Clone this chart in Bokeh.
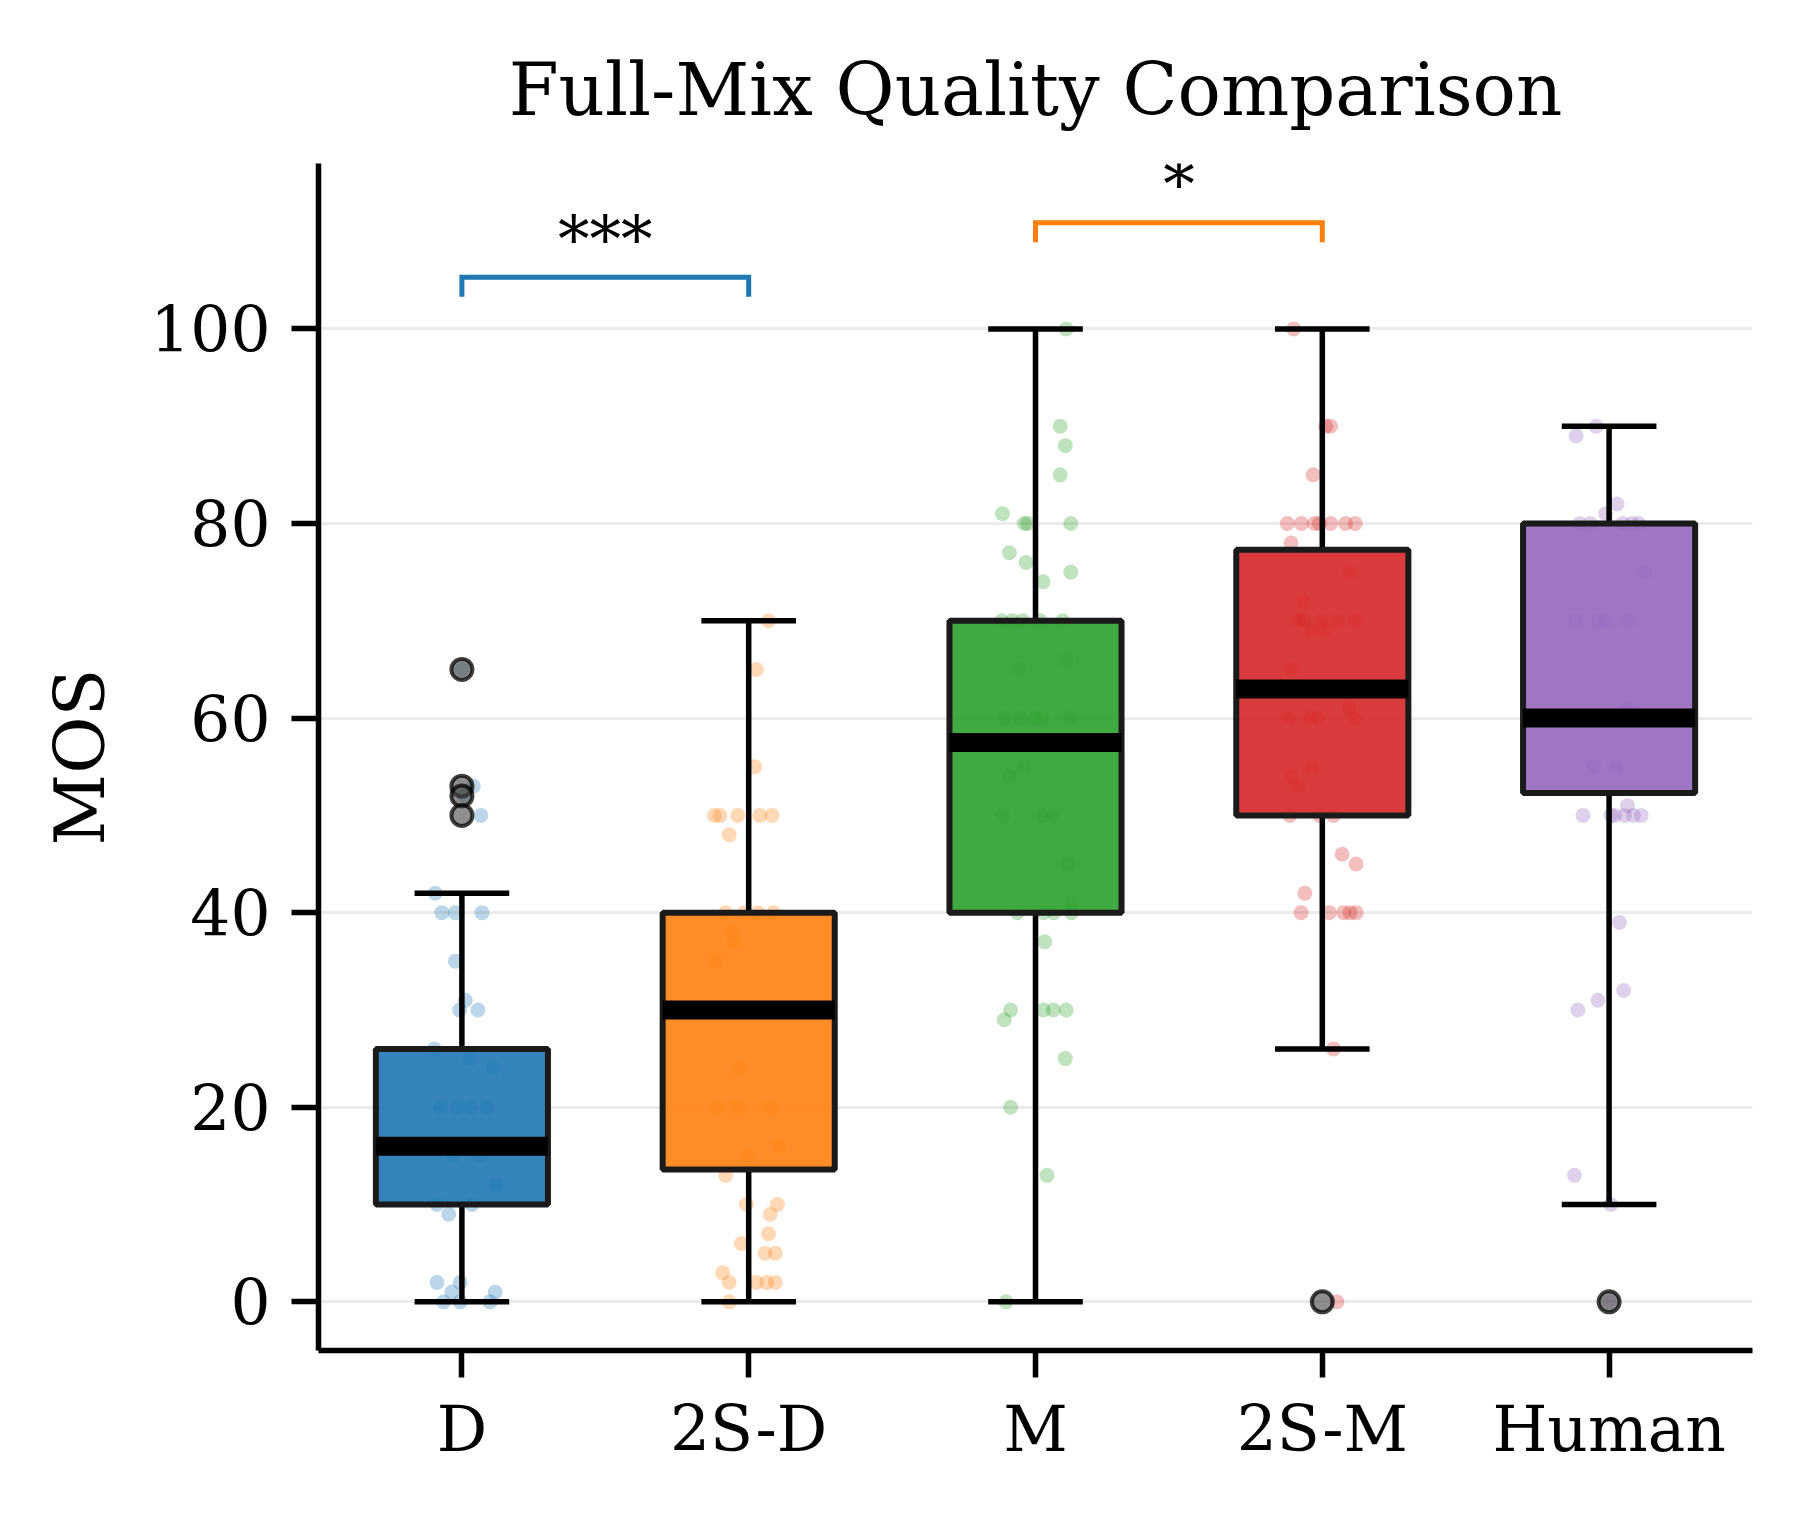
from bokeh.plotting import figure
from bokeh.models import FixedTicker, ColumnDataSource, Label
from bokeh.embed import file_html
from bokeh.resources import INLINE

# ---------------- data ----------------
categories = ["D", "2S-D", "M", "2S-M", "Human"]
colors = ["#1f77b4", "#ff7f0e", "#2ca02c", "#d62728", "#9467bd"]

whisker_low = [0, 0, 0, 26, 10]
q1 = [10, 13.6, 40, 50, 52.3]
median = [16, 30, 57.5, 63, 60]
q3 = [26, 40, 70, 77.3, 80]
whisker_high = [42, 70, 100, 100, 90]

outlier_group = [0, 0, 0, 0, 3, 4]
outlier_vals = [65, 53, 52, 50, 0, 0]

d_vals = [65, 53, 52, 50, 42, 40, 40, 40, 35, 31, 30, 30, 26, 25, 24, 20, 20, 20, 20, 15, 15, 12,
          10, 9, 10, 2, 2, 1, 1, 0, 0, 0]
d_offs = [0.0, 0.04, 0.01, 0.066, -0.093, -0.07, -0.023, 0.07, -0.023, 0.012, -0.008, 0.056, -0.096,
          0.03, 0.11, -0.075, -0.017, 0.03, 0.087, 0.064, -0.03, 0.12, -0.087, -0.046, 0.035,
          -0.087, -0.006, -0.035, 0.116, -0.064, -0.006, 0.098]

sd_vals = [70, 65, 55, 50, 50, 50, 50, 50, 48, 40, 40, 40, 40, 38, 37, 35, 24, 20, 20, 20, 16, 15,
           13, 10, 10, 9, 6, 7, 5, 5, 3, 2, 2, 2, 2, 0]
sd_offs = [0.069, 0.027, 0.021, -0.12, -0.10, -0.038, 0.039, 0.081, -0.068, -0.08, -0.014, 0.033,
           0.087, -0.056, -0.05, -0.115, -0.032, -0.11, -0.038, 0.075, 0.105, -0.005, -0.08,
           -0.008, 0.10, 0.075, -0.026, 0.069, 0.057, 0.093, -0.091, -0.068, 0.027, 0.063, 0.093,
           -0.068]

m_vals = [100, 90, 88, 85, 81, 80, 80, 80, 77, 76, 75, 74, 70, 70, 70, 70, 70, 66, 65, 60, 60, 60,
          60, 60, 55, 54, 50, 50, 50, 45, 41, 40, 40, 40, 40, 37, 30, 30, 30, 30, 29, 25, 20, 13, 0]
m_offs = [0.107, 0.086, 0.104, 0.086, -0.115, -0.039, -0.027, 0.123, -0.091, -0.033, 0.123, 0.026,
          -0.118, -0.081, -0.045, 0.016, 0.095, 0.107, -0.06, -0.106, -0.051, -0.002, 0.022, 0.123,
          -0.039, -0.091, -0.115, 0.028, 0.062, 0.113, 0.125, -0.063, 0.028, 0.064, 0.125, 0.032,
          -0.087, 0.028, 0.062, 0.107, -0.109, 0.104, -0.087, 0.04, -0.103]

sm_vals = [100, 90, 90, 85, 80, 80, 80, 80, 80, 80, 80, 78, 75, 72, 70, 70, 70, 70, 70, 69, 69, 65,
           61, 60, 60, 60, 60, 55, 54, 53, 50, 50, 50, 46, 45, 42, 40, 40, 40, 40, 40, 26, 0]
sm_offs = [-0.1, 0.012, 0.029, -0.032, -0.122, -0.073, -0.028, -0.01, 0.029, 0.081, 0.115, -0.109,
           0.097, -0.067, -0.083, -0.064, -0.004, 0.051, 0.115, -0.036, 0.012, -0.107, 0.094,
           -0.119, -0.04, -0.016, 0.112, -0.036, -0.109, -0.083, -0.113, -0.01, 0.039, 0.069, 0.118,
           -0.061, -0.074, 0.024, 0.075, 0.097, 0.118, 0.039, 0.051]

h_vals = [90, 89, 82, 81, 80, 80, 80, 80, 80, 75, 70, 70, 70, 70, 61, 55, 55, 51, 50, 50, 50, 50,
          50, 50, 39, 32, 31, 30, 13, 10, 0]
h_offs = [-0.045, -0.115, 0.028, -0.012, -0.103, -0.066, 0.048, 0.079, 0.103, 0.124, -0.115, -0.036,
          -0.012, 0.066, 0.066, -0.054, 0.024, 0.064, -0.091, 0.006, 0.02, 0.054, 0.085, 0.112,
          0.036, 0.051, -0.039, -0.109, -0.121, 0.006, 0.0]

strip_vals = [d_vals, sd_vals, m_vals, sm_vals, h_vals]
strip_offs = [d_offs, sd_offs, m_offs, sm_offs, h_offs]

# significance brackets
sig_start = [0, 2]
sig_end = [1, 3]
sig_level = [105.3, 110.9]
sig_text = ["***", "*"]
sig_color = ["#1f77b4", "#ff7f0e"]

y_ticks = [0, 20, 40, 60, 80, 100]

# ---------------- figure ----------------
FONT = "DejaVu Serif"
W, H = 1784, 1498
LW = 5.5
p = figure(width=W, height=H, x_range=(-0.5, 4.5), y_range=(-5, 117),
           output_backend="svg", toolbar_location=None,
           min_border_left=318, min_border_right=32, min_border_top=163, min_border_bottom=148)
p.outline_line_color = None
p.background_fill_color = "white"

p.title.text = "Full-Mix Quality Comparison"
p.title.text_font = FONT
p.title.text_font_size = "72px"
p.title.text_font_style = "normal"
p.title.align = "center"
p.title.text_color = "black"
p.title.standoff = 64

p.xgrid.visible = False
p.ygrid.ticker = FixedTicker(ticks=y_ticks)
p.ygrid.grid_line_color = "#ebebeb"
p.ygrid.grid_line_width = 3

for ax in (p.xaxis[0], p.yaxis[0]):
    ax.axis_line_width = LW
    ax.axis_line_color = "black"
    ax.major_tick_line_width = LW
    ax.major_tick_line_color = "black"
    ax.major_tick_out = 27
    ax.major_tick_in = 0
    ax.minor_tick_line_color = None
    ax.major_label_text_font = FONT
    ax.major_label_text_font_size = "63px"
    ax.major_label_text_color = "black"

p.xaxis.ticker = FixedTicker(ticks=list(range(len(categories))))
p.xaxis.major_label_overrides = {i: c for i, c in enumerate(categories)}
p.xaxis.major_label_standoff = 15
p.yaxis.ticker = FixedTicker(ticks=y_ticks)
p.yaxis.major_label_standoff = 21
p.yaxis.axis_label = "MOS"
p.yaxis.axis_label_text_font = FONT
p.yaxis.axis_label_text_font_size = "70px"
p.yaxis.axis_label_text_font_style = "normal"
p.yaxis.axis_label_text_color = "black"
p.yaxis.axis_label_standoff = 26

# strip points
for i, (vals, offs) in enumerate(zip(strip_vals, strip_offs)):
    src = ColumnDataSource(dict(x=[i + o for o in offs], y=vals))
    p.scatter("x", "y", source=src, size=15, fill_color=colors[i], fill_alpha=0.3,
              line_color=None)

xs = list(range(len(categories)))
box_src = ColumnDataSource(dict(x=xs, q1=q1, q3=q3, med=median, lo=whisker_low, hi=whisker_high,
                                color=colors,
                                left=[x - 0.3 for x in xs], right=[x + 0.3 for x in xs],
                                cl=[x - 0.165 for x in xs], cr=[x + 0.165 for x in xs]))

# whiskers and caps
p.segment(x0="x", y0="q3", x1="x", y1="hi", source=box_src, line_color="black", line_width=LW)
p.segment(x0="x", y0="q1", x1="x", y1="lo", source=box_src, line_color="black", line_width=LW)
p.segment(x0="cl", y0="hi", x1="cr", y1="hi", source=box_src, line_color="black", line_width=LW)
p.segment(x0="cl", y0="lo", x1="cr", y1="lo", source=box_src, line_color="black", line_width=LW)

# boxes
p.vbar(x="x", width=0.6, bottom="q1", top="q3", source=box_src, fill_color="color",
       fill_alpha=0.9, line_color="#1a1a1a", line_width=6)
# medians
p.segment(x0="left", y0="med", x1="right", y1="med", source=box_src, line_color="black",
          line_width=19, line_cap="butt")

# outliers
p.scatter(x=outlier_group, y=outlier_vals, size=21, fill_color="#444444", fill_alpha=0.6,
          line_color="black", line_alpha=0.75, line_width=4)

# significance brackets
for a, b, lvl, txt, col in zip(sig_start, sig_end, sig_level, sig_text, sig_color):
    p.line(x=[a, a, b, b], y=[lvl - 2, lvl, lvl, lvl - 2], line_color=col, line_width=5,
           line_join="miter")
    p.add_layout(Label(x=(a + b) / 2, y=lvl + 3.8, text=txt, text_font=FONT,
                       text_font_size="63px", text_align="center", text_baseline="alphabetic",
                       text_color="black"))

open("out.html", "w").write(file_html(p, INLINE))
